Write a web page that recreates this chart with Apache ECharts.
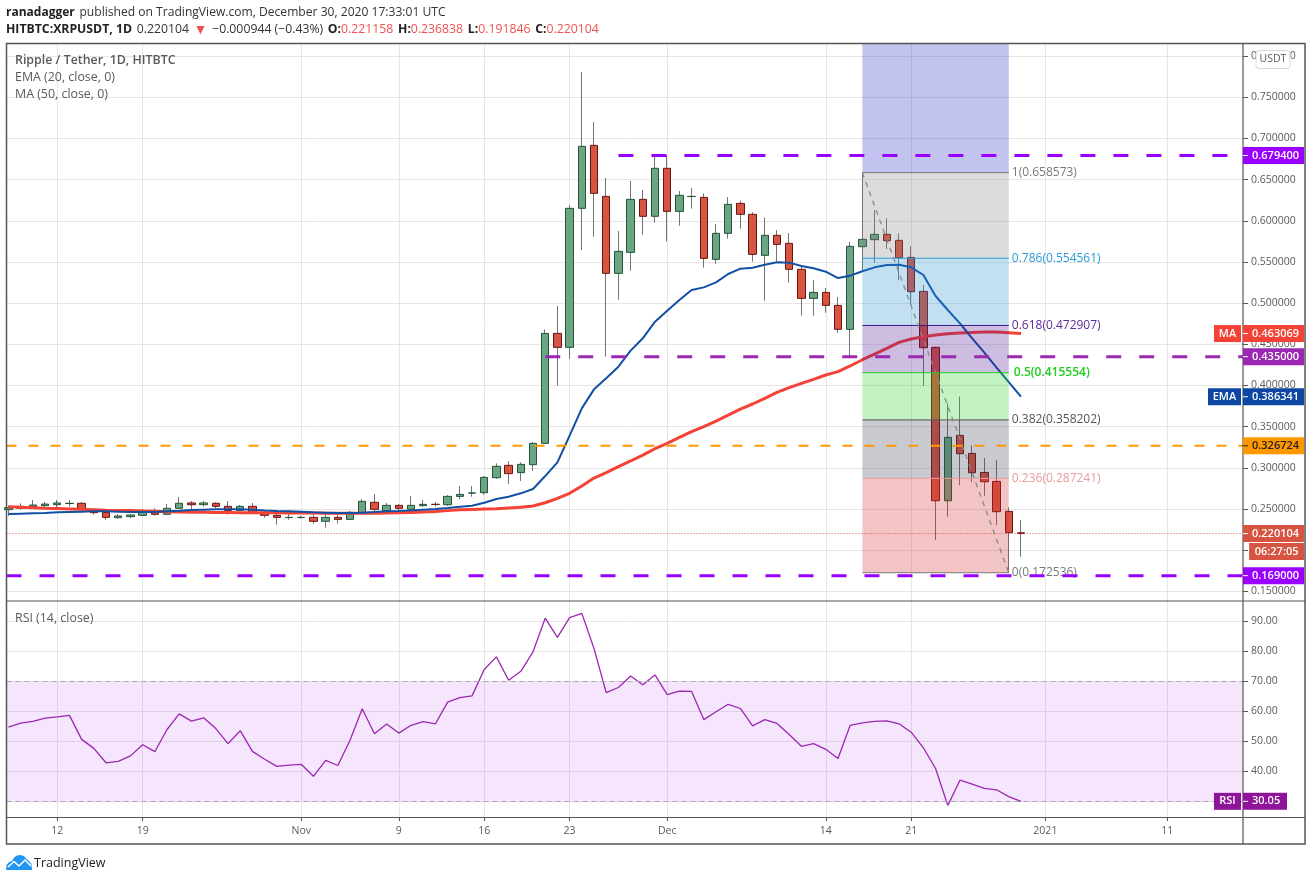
<!DOCTYPE html>
<html><head><meta charset="utf-8">
<style>html,body{margin:0;padding:0;background:#fff}#c{width:1311px;height:881px}</style>
<script src="https://cdn.jsdelivr.net/npm/echarts@6/dist/echarts.min.js"></script>
</head><body><div id="c"></div>
<script>
const FONT = '"Open Sans", sans-serif';
const opens = [.2492,.2508,.2528,.2540,.2552,.2566,.2569,.2488,.2459,.2394,.2407,.2423,.2459,.2435,.2508,.2573,.2552,.2569,.2532,.2483,.2532,.2459,.2423,.2396,.2396,.2398,.2350,.2398,.2374,.2459,.2581,.2479,.2544,.2496,.2540,.2557,.2552,.2653,.2693,.2698,.2880,.3030,.2941,.3038,.3297,.4633,.4463,.6152,.6917,.6297,.5362,.5617,.6261,.6055,.6638,.6115,.6295,.6285,.5532,.5848,.6212,.6079,.5581,.5824,.5727,.5411,.5058,.5131,.4973,.4682,.5686,.5771,.5836,.5763,.5556,.5143,.4463,.2600,.3394,.3175,.2944,.2835,.2471,.221158];
const closes = [.2516,.2532,.2548,.2560,.2573,.2569,.2496,.2455,.2398,.2415,.2427,.2459,.2435,.2508,.2569,.2552,.2573,.2532,.2483,.2532,.2459,.2423,.2398,.2398,.2398,.2350,.2398,.2374,.2459,.2593,.2496,.2544,.2508,.2544,.2556,.2555,.2653,.2677,.2695,.2884,.3018,.2929,.3042,.3297,.4633,.4463,.6152,.6905,.6334,.5362,.5629,.6261,.6055,.6638,.6115,.6310,.6297,.5544,.5848,.6200,.6079,.5593,.5824,.5714,.5411,.5058,.5131,.4973,.4682,.5690,.5775,.5836,.5759,.5552,.5139,.4459,.2600,.3370,.3171,.2940,.2831,.2467,.2212,.220104];
const lows = [.2415,.2492,.2528,.2512,.2500,.2528,.2451,.2431,.2370,.2382,.2390,.2415,.2419,.2435,.2508,.2500,.2528,.2512,.2431,.2479,.2451,.2394,.2309,.2370,.2382,.2321,.2273,.2321,.2374,.2451,.2451,.2459,.2455,.2479,.2528,.2528,.2536,.2617,.2649,.2673,.2864,.2803,.2839,.2961,.3297,.3998,.4325,.5646,.5808,.4350,.5042,.5395,.5832,.5978,.5747,.5941,.6148,.5431,.5479,.5783,.5905,.5504,.5030,.5508,.5249,.4848,.4848,.4884,.4637,.4358,.5402,.5491,.5657,.5281,.4977,.3993,.2123,.2406,.2791,.2827,.2661,.2305,.1725,.191846];
const highs = [.2540,.2569,.2609,.2585,.2609,.2609,.2585,.2508,.2488,.2439,.2439,.2500,.2508,.2560,.2645,.2597,.2597,.2581,.2597,.2548,.2573,.2479,.2439,.2439,.2419,.2451,.2451,.2439,.2479,.2617,.2682,.2573,.2560,.2658,.2609,.2585,.2669,.2779,.2779,.2900,.3054,.3082,.3066,.3313,.4682,.4965,.6192,.7808,.7200,.6520,.5876,.6484,.6374,.6787,.6795,.6362,.6399,.6334,.5961,.6289,.6245,.6103,.6042,.5888,.5852,.5459,.5281,.5184,.5075,.5743,.6586,.6131,.6030,.5848,.5694,.5220,.4471,.3783,.3864,.3273,.3119,.3094,.2519,.236838];
const ema20 = [.2439,.2443,.2447,.2451,.2459,.2463,.2467,.2471,.2471,.2467,.2463,.2463,.2463,.2471,.2479,.2488,.2492,.2496,.2496,.2496,.2492,.2483,.2475,.2471,.2467,.2459,.2455,.2451,.2451,.2455,.2463,.2471,.2475,.2483,.2492,.2500,.2512,.2526,.2540,.2576,.2621,.2649,.2690,.2742,.2900,.3066,.3390,.3722,.3953,.4087,.4228,.4423,.4573,.4775,.4909,.5038,.5160,.5192,.5253,.5354,.5419,.5431,.5467,.5496,.5492,.5451,.5423,.5382,.5305,.5334,.5388,.5435,.5463,.5467,.5435,.5342,.5087,.4917,.4754,.4572,.4398,.4216,.4042,.386341];
const ma50 = [.2528,.2522,.2516,.2510,.2506,.2501,.2496,.2491,.2486,.2483,.2480,.2476,.2472,.2466,.2463,.2461,.2459,.2457,.2456,.2455,.2455,.2454,.2453,.2452,.2451,.2450,.2449,.2448,.2447,.2448,.2449,.2451,.2454,.2458,.2462,.2470,.2480,.2490,.2495,.2499,.2503,.2512,.2520,.2536,.2576,.2629,.2690,.2780,.2875,.2941,.3014,.3083,.3155,.3232,.3297,.3370,.3439,.3500,.3568,.3641,.3714,.3775,.3844,.3917,.3973,.4026,.4075,.4127,.4168,.4237,.4313,.4382,.4451,.4524,.4564,.4593,.4613,.4629,.4637,.4645,.4649,.4649,.4641,.463069];
const rsi14 = [54.8,56.1,56.7,57.8,58.2,58.7,50.7,47.7,42.9,43.4,45.2,48.9,46.6,54.0,59.2,56.8,57.9,54.3,49.3,53.6,46.7,44.1,41.7,42.1,42.4,38.4,43.7,42.0,50.4,60.9,52.6,55.8,52.8,55.4,56.6,55.9,63.1,64.6,65.2,74.0,78.2,70.4,73.4,79.9,91.1,84.7,91.3,92.7,81.0,66.3,68.0,71.8,68.9,72.2,65.6,66.8,66.7,57.3,59.9,62.4,61.0,55.2,57.3,56.0,52.3,48.4,49.3,47.4,44.3,55.4,56.2,56.7,56.9,55.9,53.1,47.9,41.0,28.7,37.1,35.8,34.4,33.9,31.6,30.05];
const firstDay = -4;             // day numbers count from 12 Oct 2020 = 0
const dayNumbers = closes.map((_, k) => k + firstDay);

const xTickDays = [0, 7, 20, 28, 35, 42, 50, 63, 70, 81, 91];
const xTickLabels = ['12', '19', 'Nov', '9', '16', '23', 'Dec', '14', '21', '2021', '11'];
const priceTicks = [0.15, 0.20, 0.25, 0.30, 0.35, 0.40, 0.45, 0.50, 0.55, 0.60, 0.65, 0.70, 0.75, 0.80];
const rsiTicks = [30, 40, 50, 60, 70, 80, 90];

const fibRatios = ['1', '0.786', '0.618', '0.5', '0.382', '0.236', '0'];
const fibPrices = [0.658573, 0.554561, 0.472907, 0.415554, 0.358202, 0.287241, 0.172536];
const fibLine = ['#787878', '#2b9bd8', '#3a1a8a', '#21cc21', '#555555', '#e99a9a', '#787878'];
const fibFill = ['rgba(130,130,130,.28)', 'rgba(41,144,212,.28)', 'rgba(76,19,144,.28)', 'rgba(41,212,41,.28)', 'rgba(62,62,87,.28)', 'rgba(212,44,44,.28)'];
const fibText = ['#787878', '#2b9bd8', '#5a2a9a', '#21cc21', '#555555', '#e99a9a', '#787878'];
const fibStartDay = 66, fibEndDay = 78;

const xMin = -4.16, xMax = 97.2, pMin = 0.13822, pMax = 0.8148, rMin = 24.83, rMax = 96.83;

const levelValues = [0.6794, 0.435, 0.326724, 0.169];
const levelStart = [46, 40, xMin, xMin];
const levelColors = ['#9900ff', '#9c27b0', '#ff9800', '#9900ff'];
const levelWidths = [3, 3, 2, 3];
const levelDash = [[15, 18], [15, 18], [10, 12], [15, 18]];

const priceTags = [
  ['0.679400', 0.6794, '#9900ff', '#fff', ''],
  ['0.463069', 0.463069, '#f44336', '#fff', 'MA'],
  ['0.435000', 0.435, '#9c27b0', '#fff', ''],
  ['0.386341', 0.386341, '#0d47a1', '#fff', 'EMA'],
  ['0.326724', 0.326724, '#ff9800', '#222', ''],
  ['0.220104', 0.220104, '#d75442', '#fff', ''],
  ['0.169000', 0.169, '#9900ff', '#fff', '']
];

const candleData = closes.map((c, k) => [dayNumbers[k], opens[k], c, lows[k], highs[k]]);
const bodyData = closes.map((c, k) => [dayNumbers[k], opens[k], c, Math.min(opens[k], c), Math.max(opens[k], c)]);
const pts = arr => arr.map((v, k) => [dayNumbers[k], v]);

function tagLabel(text, color, fg, width, tick, pos) {
  const rich = { v: { color: fg, fontFamily: FONT, fontSize: 11, fontWeight: 600, lineHeight: 17,
    width: tick ? width - 9 : width, align: tick ? 'left' : 'center', padding: tick ? [0, 0, 0, 4] : 0 } };
  if (tick) rich.t = { width: 5, height: 1, lineHeight: 1, backgroundColor: fg === '#222' ? '#222' : '#fff', verticalAlign: 'middle' };
  return {
    show: true, position: pos, distance: pos === 'left' ? 2 : 0,
    formatter: (tick ? '{t|}' : '') + '{v|' + text + '}',
    rich, backgroundColor: color, width, height: 17, lineHeight: 17, align: pos === 'left' ? 'right' : 'left', verticalAlign: 'middle', opacity: 1
  };
}
const tagData = [];
priceTags.forEach(t => {
  tagData.push({ value: [xMax, t[1]], label: tagLabel(t[0], t[2], t[3], 61, true, 'right') });
  if (t[4]) tagData.push({ value: [xMax, t[1]], label: tagLabel(t[4], t[2], '#fff', t[4] === 'EMA' ? 33 : 27, false, 'left') });
});
const countdownTagPrice = 0.1983;
const countdown = { value: [xMax + 0.5, countdownTagPrice], label: tagLabel('06:27:05', '#d75442', '#fff', 55, false, 'right') };
tagData.push(countdown);

const levelSeries = levelValues.map((v, k) => ({
  type: 'line', xAxisIndex: 0, yAxisIndex: 0, z: 8, symbol: 'none', silent: true, animation: false,
  data: [[levelStart[k], v], [xMax, v]],
  lineStyle: { color: levelColors[k], width: levelWidths[k], type: levelDash[k] }
}));

const chart = echarts.init(document.getElementById('c'), null, { renderer: 'canvas' });
const axisText = { color: '#5a5a5a', fontFamily: FONT, fontSize: 10.5 };
const gridLine = { show: true, lineStyle: { color: '#e6e6e6', width: 1 } };
const noLine = { show: false, onZero: false };
const headB = { fontFamily: FONT, fontSize: 12, fontWeight: 700, color: '#222' };
const headN = { fontFamily: FONT, fontSize: 12, fontWeight: 400, color: '#333' };
const head2B = { ...headB, fontSize: 12.25 };
const head2N = { ...headN, fontSize: 12.25 };
const head2R = { fontFamily: FONT, fontSize: 12.25, fontWeight: 400, color: '#f05050' };
const head2T = { fontFamily: FONT, fontSize: 14, fontWeight: 400, color: '#f05050' };
const legendText = { fontFamily: FONT, fontSize: 12.4, fontWeight: 400, color: '#5a5a5a' };

chart.setOption({
  animation: false,
  backgroundColor: '#fff',
  textStyle: { fontFamily: FONT },
  title: [
    { left: 6, top: 4, padding: 0, text: '{b|ranadagger} {n|published on TradingView.com, December 30, 2020 17:33:01 UTC}',
      textStyle: { rich: { b: headB, n: { ...headN, fontSize: 12.1 } } } },
    { left: 6, top: 21, padding: 0,
      text: '{b|HITBTC:XRPUSDT, 1D} {n|0.220104} {t|▼} {n|−0.000944 (−0.43%)} {b|O:}{r|0.221158} {b|H:}{r|0.236838} {b|L:}{r|0.191846} {b|C:}{r|0.220104}',
      textStyle: { rich: { b: head2B, n: head2N, r: head2R, t: head2T } } },
    { left: 15, top: 54, padding: 0, text: 'Ripple / Tether, 1D, HITBTC', textStyle: { ...legendText, fontWeight: 600 } },
    { left: 15, top: 71, padding: 0, text: 'EMA (20, close, 0)', textStyle: legendText },
    { left: 15, top: 88, padding: 0, text: 'MA (50, close, 0)', textStyle: legendText },
    { left: 15, top: 612, padding: 0, text: 'RSI (14, close)', textStyle: legendText },
    { left: 34, top: 857, padding: 0, text: 'TradingView', textStyle: { fontFamily: FONT, fontSize: 12.5, fontWeight: 400, color: '#222' } }
  ],
  grid: [
    { left: 6.5, top: 44, width: 1236.5, height: 557, show: false },
    { left: 6.5, top: 601, width: 1236.5, height: 216, show: false }
  ],
  xAxis: [
    { type: 'value', gridIndex: 0, min: xMin, max: xMax, axisLine: noLine, axisLabel: { show: false, customValues: xTickDays }, axisTick: { show: false, customValues: xTickDays }, splitLine: gridLine },
    { type: 'value', gridIndex: 1, min: xMin, max: xMax, axisLine: noLine,
      axisTick: { show: true, length: 4, lineStyle: { color: '#555' }, customValues: xTickDays },
      axisLabel: { ...axisText, margin: 9, customValues: xTickDays, formatter: v => xTickLabels[xTickDays.indexOf(v)] || '' }, splitLine: gridLine }
  ],
  yAxis: [
    { type: 'value', gridIndex: 0, position: 'right', min: pMin, max: pMax, axisLine: noLine,
      axisTick: { show: true, length: 5, lineStyle: { color: '#555' }, customValues: priceTicks },
      axisLabel: { ...axisText, margin: 8, padding: [2, 0, 0, 0], customValues: priceTicks, formatter: v => v.toFixed(6) }, splitLine: gridLine },
    { type: 'value', gridIndex: 1, position: 'right', min: rMin, max: rMax, axisLine: noLine,
      axisTick: { show: true, length: 5, lineStyle: { color: '#555' }, customValues: rsiTicks },
      axisLabel: { ...axisText, margin: 8, padding: [2, 0, 0, 0], customValues: rsiTicks, formatter: v => v.toFixed(2) }, splitLine: gridLine }
  ],
  series: [
    { type: 'candlestick', name: 'wicks', xAxisIndex: 0, yAxisIndex: 0, z: 2, barWidth: 1, silent: true, data: candleData,
      itemStyle: { color: '#737375', color0: '#737375', borderColor: '#737375', borderColor0: '#737375', borderWidth: 1 } },
    { type: 'candlestick', name: 'XRPUSDT', xAxisIndex: 0, yAxisIndex: 0, z: 3, barWidth: 8, silent: true, data: bodyData,
      itemStyle: { color: '#6ba583', color0: '#d75442', borderColor: '#225437', borderColor0: '#6b1510', borderWidth: 1 } },
    { type: 'line', name: 'MA 50', xAxisIndex: 0, yAxisIndex: 0, z: 4, symbol: 'none', silent: true, data: pts(ma50), lineStyle: { color: '#f44336', width: 3 } },
    { type: 'line', name: 'EMA 20', xAxisIndex: 0, yAxisIndex: 0, z: 4, symbol: 'none', silent: true, data: pts(ema20), lineStyle: { color: '#1250a5', width: 2 } },
    { type: 'custom', name: 'fib', xAxisIndex: 0, yAxisIndex: 0, z: 6, silent: true, clip: false,
      data: fibPrices.map((p, k) => [k, p]), encode: { y: 1 },
      renderItem: (params, api) => {
        const k = api.value(0), p = api.value(1);
        const L = api.coord([fibStartDay, p]), R = api.coord([fibEndDay, p]);
        const kids = [{ type: 'line', shape: { x1: L[0], y1: L[1], x2: R[0], y2: R[1] }, style: { stroke: fibLine[k], lineWidth: 1 } },
          { type: 'text', style: { x: R[0] + (k === 3 ? 5 : 3), y: L[1], text: fibRatios[k] + '(' + fibPrices[k].toFixed(6) + ')', fill: fibText[k], font: (k === 3 ? '600 ' : '') + '12px ' + FONT, verticalAlign: 'middle' } }];
        if (k < fibFill.length) {
          const B = api.coord([fibStartDay, fibPrices[k + 1]]);
          kids.unshift({ type: 'rect', shape: { x: L[0], y: L[1], width: R[0] - L[0], height: B[1] - L[1] }, style: { fill: fibFill[k] } });
        }
        if (k === 0) {
          const T = api.coord([fibStartDay, pMax]);
          kids.unshift({ type: 'rect', shape: { x: T[0], y: T[1], width: R[0] - L[0], height: L[1] - T[1] }, style: { fill: 'rgba(41,41,201,.28)' } });
        }
        return { type: 'group', children: kids };
      } },
    { type: 'line', name: 'fib trend', xAxisIndex: 0, yAxisIndex: 0, z: 7, symbol: 'none', silent: true,
      data: [[fibStartDay, fibPrices[0]], [fibEndDay, fibPrices[6]]], lineStyle: { color: '#888', width: 1.3, type: [5, 5] } },
    { type: 'line', name: 'last', xAxisIndex: 0, yAxisIndex: 0, z: 5, symbol: 'none', silent: true,
      data: [[xMin, 0.220104], [xMax, 0.220104]], lineStyle: { color: '#d75442', width: 1, type: [1, 2] } },
    ...levelSeries,
    { type: 'scatter', name: 'tags', xAxisIndex: 0, yAxisIndex: 0, z: 20, symbolSize: 0, silent: true, clip: false, itemStyle: { opacity: 1 }, data: tagData },
    { type: 'line', name: 'RSI', xAxisIndex: 1, yAxisIndex: 1, z: 4, symbol: 'none', silent: true, data: pts(rsi14), lineStyle: { color: '#9c27b0', width: 1.3 },
      markArea: { silent: true, itemStyle: { color: 'rgba(153,0,238,.1)' }, data: [[{ yAxis: 70, xAxis: xMin }, { yAxis: 30, xAxis: xMax }]] },
      markLine: { silent: true, symbol: 'none', label: { show: false }, lineStyle: { color: '#b0a4b8', type: [5, 4], width: 1 }, data: [{ yAxis: 70 }, { yAxis: 30 }] } },
    { type: 'scatter', name: 'rsiTag', xAxisIndex: 1, yAxisIndex: 1, z: 20, symbolSize: 0, silent: true, clip: false, itemStyle: { opacity: 1 },
      data: [{ value: [xMax, 30.05], label: tagLabel('30.05', '#8e1599', '#fff', 44, true, 'right') },
             { value: [xMax, 30.05], label: tagLabel('RSI', '#8e1599', '#fff', 27, false, 'left') }] }
  ],
  graphic: [
    { type: 'rect', z: 15, silent: true, shape: { x: 6.5, y: 43.5, width: 1298.5, height: 800.5 }, style: { fill: 'none', stroke: '#555', lineWidth: 1.5 } },
    { type: 'line', z: 15, silent: true, shape: { x1: 1243, y1: 44, x2: 1243, y2: 844 }, style: { stroke: '#555', lineWidth: 1.2 } },
    { type: 'line', z: 15, silent: true, shape: { x1: 6.5, y1: 601, x2: 1305, y2: 601 }, style: { stroke: '#555', lineWidth: 1.2 } },
    { type: 'line', z: 15, silent: true, shape: { x1: 6.5, y1: 817.5, x2: 1305, y2: 817.5 }, style: { stroke: '#555', lineWidth: 1.2 } },
    { type: 'rect', z: 30, silent: true, shape: { x: 1256, y: 50.5, width: 34, height: 18, r: 3 }, style: { fill: '#fff', stroke: '#d8d8e4', lineWidth: 1 } },
    { type: 'text', z: 31, silent: true, style: { x: 1273, y: 59.5, text: 'USDT', fill: '#5a5a5a', font: '10.5px ' + FONT, align: 'center', verticalAlign: 'middle' } },
    { type: 'polygon', z: 15, silent: true, shape: { points: [[6, 870], [6.5, 865], [9, 862], [12, 861], [14, 857.5], [17, 855.5], [20, 855], [24, 856], [26.5, 859], [29, 861], [31.5, 864], [32, 870]] }, style: { fill: '#2196f3' } },
    { type: 'polyline', z: 16, silent: true, shape: { points: [[8, 867], [14, 861.5], [19, 866], [25, 860], [31, 866]] }, style: { stroke: '#fff', fill: 'none', lineWidth: 1.5 } }
  ]
});
</script></body></html>
